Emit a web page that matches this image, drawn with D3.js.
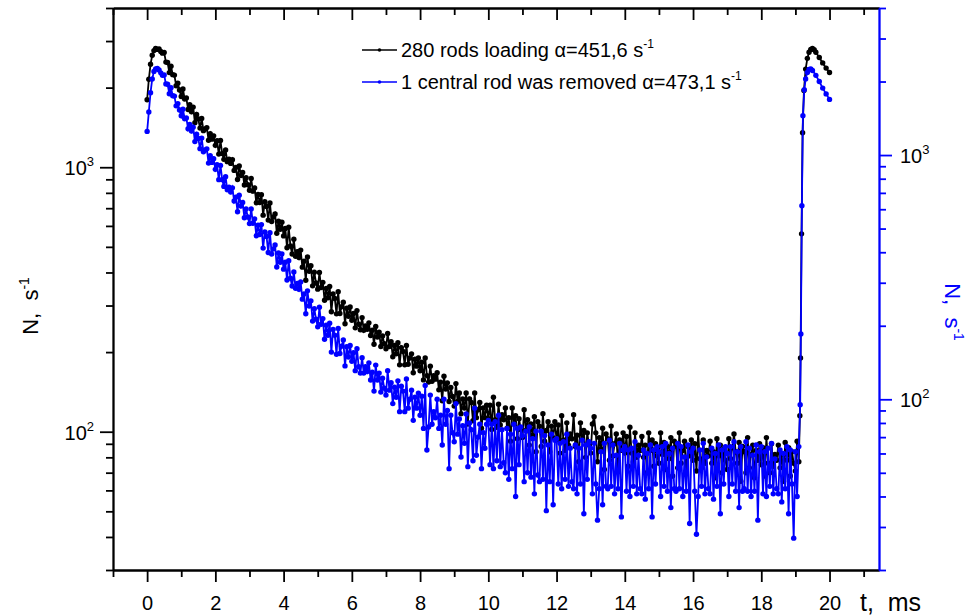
<!DOCTYPE html>
<meta charset="utf-8">
<style>
    body { margin: 0; background: #fff; }
    text { font-family: "Liberation Sans", Arial, sans-serif; }
</style>
<body>
<script src="https://d3js.org/d3.v7.min.js"></script>
<script>

    var width = 974, height = 616;

    // decay part: channels of 0.05 ms starting at t = 0
    var t0 = 0, dt = 0.05;

    // 280 rods loading (left axis), one row = 0.5 ms
    var rodsAll = [
        1800, 2150, 2450, 2650, 2760, 2810, 2790, 2800, 2740, 2700,
        2714, 2498, 2490, 2279, 2411, 2239, 2230, 2034, 2077, 1958,
        1852, 1977, 1810, 1827, 1654, 1723, 1622, 1688, 1474, 1584,
        1522, 1406, 1530, 1375, 1396, 1412, 1265, 1339, 1277, 1314,
        1210, 1260, 1121, 1262, 1127, 1071, 1163, 1050, 1073, 1034,
        1068, 973, 998, 899, 1011, 931, 955, 857, 912, 859,
        818, 906, 812, 835, 734, 789, 735, 787, 659, 740,
        711, 631, 732, 623, 648, 666, 563, 625, 583, 620,
        550, 587, 496, 593, 504, 470, 534, 461, 479, 456,
        486, 419, 441, 374, 458, 404, 424, 356, 401, 365,
        346, 400, 351, 367, 314, 348, 321, 354, 284, 332,
        319, 279, 338, 280, 297, 309, 256, 293, 273, 296,
        264, 280, 247, 287, 255, 243, 270, 242, 251, 244,
        258, 231, 242, 214, 250, 228, 238, 210, 230, 215,
        206, 235, 210, 219, 192, 212, 197, 217, 179, 208,
        201, 179, 212, 180, 190, 197, 167, 188, 177, 190,
        170, 183, 157, 190, 163, 154, 177, 155, 163, 158,
        167, 144, 154, 131, 162, 145, 153, 130, 147, 136,
        125, 152, 130, 140, 117, 133, 123, 140, 107, 133,
        129, 110, 140, 113, 121, 129, 103, 123, 113, 126,
        112, 126, 102, 135, 111, 104, 127, 106, 116, 111,
        123, 103, 113, 92, 123, 107, 115, 94, 112, 102,
        95, 121, 101, 111, 89, 107, 97, 114, 84, 109,
        105, 88, 117, 92, 101, 109, 84, 105, 95, 109,
        93, 106, 83, 115, 93, 85, 108, 89, 98, 94,
        116, 88, 97, 77, 108, 93, 101, 80, 99, 89,
        83, 107, 114, 99, 77, 95, 86, 103, 72, 98,
        94, 78, 105, 81, 90, 98, 74, 93, 85, 99,
        83, 96, 74, 104, 83, 77, 99, 80, 89, 85,
        96, 80, 89, 70, 99, 85, 93, 74, 90, 81,
        76, 99, 82, 91, 72, 88, 79, 95, 68, 92,
        88, 73, 99, 76, 85, 92, 70, 88, 81, 93,
        78, 90, 71, 99, 79, 73, 93, 76, 85, 81,
        92, 76, 84, 67, 94, 81, 89, 70, 86, 78,
        72, 94, 79, 87, 98, 84, 76, 91, 65, 88,
        84, 70, 95, 73, 82, 89, 67, 85, 78, 90,
        75, 87, 68, 95, 76, 70, 90, 74, 82, 78,
        89, 73, 82, 65, 91, 78, 87, 68, 84, 76,
        71, 92, 77
    ];

    // 1 central rod was removed (right axis)
    var rodRemoved = [
        1250, 1500, 1800, 2050, 2200, 2250, 2260, 2230, 2170, 2120,
        2126, 1956, 1949, 1783, 1886, 1750, 1743, 1590, 1624, 1530,
        1448, 1541, 1408, 1419, 1281, 1333, 1253, 1301, 1135, 1217,
        1170, 1062, 1173, 1031, 1049, 1060, 927, 993, 933, 966,
        874, 912, 793, 907, 793, 744, 815, 721, 738, 705,
        734, 648, 672, 586, 685, 618, 639, 554, 602, 558,
        524, 602, 526, 548, 467, 516, 473, 519, 416, 484,
        464, 399, 481, 393, 413, 428, 348, 397, 364, 394,
        341, 364, 308, 369, 313, 291, 332, 285, 298, 282,
        302, 257, 270, 224, 278, 241, 253, 209, 235, 213,
        198, 238, 203, 214, 176, 201, 183, 205, 156, 193,
        183, 153, 195, 154, 165, 175, 137, 164, 149, 166,
        143, 155, 131, 161, 136, 128, 148, 128, 136, 130,
        141, 120, 129, 108, 138, 120, 128, 107, 122, 111,
        104, 131, 109, 117, 96, 112, 102, 119, 89, 113,
        108, 89, 121, 92, 100, 109, 82, 102, 92, 106,
        86, 103, 76, 114, 62, 77, 104, 79, 89, 84,
        100, 76, 86, 65, 100, 79, 90, 52, 86, 73,
        67, 96, 72, 83, 58, 78, 66, 87, 53, 80,
        75, 56, 92, 59, 70, 79, 52, 73, 63, 79,
        82, 54, 79, 52, 81, 56, 86, 53, 75, 55,
        50, 76, 47, 72, 52, 79, 40, 76, 54, 77,
        71, 46, 74, 50, 77, 48, 69, 41, 74, 49,
        46, 74, 47, 71, 35, 65, 46, 72, 37, 68,
        69, 45, 66, 43, 67, 47, 72, 44, 63, 46,
        43, 65, 41, 63, 45, 68, 34, 65, 47, 67,
        63, 41, 66, 45, 32, 43, 61, 37, 66, 44,
        43, 68, 44, 65, 41, 59, 43, 66, 33, 62,
        64, 42, 62, 40, 63, 44, 67, 41, 59, 43,
        41, 62, 39, 60, 43, 65, 33, 62, 45, 64,
        61, 40, 64, 44, 66, 42, 60, 36, 63, 43,
        42, 66, 43, 64, 40, 58, 42, 65, 31, 61,
        63, 42, 28, 40, 62, 44, 66, 41, 58, 43,
        41, 63, 39, 60, 44, 65, 34, 62, 45, 64,
        60, 40, 64, 45, 67, 42, 61, 36, 64, 42,
        43, 67, 42, 63, 40, 59, 42, 65, 32, 61,
        64, 41, 61, 40, 63, 44, 66, 41, 57, 43,
        41, 62, 38, 60, 43, 64, 34, 62, 45, 27,
        61, 40, 64
    ];

    // next generator pulse at the end of the period
    var rodsAllTailT = [19.13, 19.15, 19.18, 19.21, 19.25, 19.3, 19.35, 19.4, 19.45, 19.5, 19.55, 19.6, 19.7, 19.8, 19.9, 20.0];
    var rodsAllTail  = [115, 190, 560, 1350, 1950, 2350, 2580, 2720, 2790, 2810, 2780, 2720, 2600, 2480, 2370, 2280];
    var rodRemovedTailT = [19.14, 19.16, 19.19, 19.22, 19.26, 19.3, 19.35, 19.4, 19.45, 19.5, 19.6, 19.7, 19.8, 19.9, 20.0];
    var rodRemovedTail  = [95, 185, 620, 1450, 1850, 2050, 2180, 2240, 2250, 2220, 2120, 2000, 1880, 1780, 1690];

    var xMajor = [0, 2, 4, 6, 8, 10, 12, 14, 16, 18, 20];
    var xMinor = [-1, 1, 3, 5, 7, 9, 11, 13, 15, 17, 19, 21];
    var leftMajor = [100, 1000];
    var leftMinor = [30, 40, 50, 60, 70, 80, 90, 200, 300, 400, 500, 600, 700, 800, 900, 2000, 3000, 4000];
    var rightMajor = [100, 1000];
    var rightMinor = [20, 30, 40, 50, 60, 70, 80, 90, 200, 300, 400, 500, 600, 700, 800, 900, 2000, 3000, 4000];

    var legendLabels = ["280 rods loading \u03b1=451,6 s", "1 central rod was removed \u03b1=473,1 s"];
    var colors = ["#000000", "#0000ff"];

    var x = d3.scaleLinear().domain([-1, 21.45]).range([113, 879]);
    var yLeft = d3.scaleLog().domain([30, 4000]).range([570, 8]);
    var yRight = d3.scaleLog().domain([20, 4000]).range([570, 8]);

    var svg = d3.select("body").append("svg")
        .attr("width", width)
        .attr("height", height);

    function series(vals, tailT, tailV) {
        var pts = vals.map(function(v, i) { return {t: t0 + i * dt, v: v}; });
        tailT.forEach(function(t, i) { pts.push({t: t, v: tailV[i]}); });
        return pts;
    }

    var black = series(rodsAll, rodsAllTailT, rodsAllTail);
    var blue = series(rodRemoved, rodRemovedTailT, rodRemovedTail);

    function drawSeries(pts, y, color) {
        var line = d3.line()
            .x(function(d) { return x(d.t); })
            .y(function(d) { return y(d.v); });
        svg.append("path")
            .datum(pts)
            .attr("fill", "none")
            .attr("stroke", color)
            .attr("stroke-width", 1.8)
            .attr("d", line);
        svg.append("g").selectAll("circle")
            .data(pts)
            .enter().append("circle")
            .attr("cx", function(d) { return x(d.t); })
            .attr("cy", function(d) { return y(d.v); })
            .attr("r", 2.7)
            .attr("fill", color);
    }

    drawSeries(black, yLeft, colors[0]);
    drawSeries(blue, yRight, colors[1]);

    // axes: major and minor ticks drawn separately
    function styleAxis(g, color) {
        g.selectAll("path, line").attr("stroke", color).attr("stroke-width", 1.8);
        g.selectAll("text").attr("fill", color);
    }

    var gBottom = svg.append("g").attr("transform", "translate(0,570)")
        .call(d3.axisBottom(x).tickValues(xMajor).tickSize(12).tickSizeOuter(0).tickPadding(14).tickFormat(d3.format("d")));
    gBottom.selectAll("text").attr("font-size", 20);
    styleAxis(gBottom, "#000");
    styleAxis(svg.append("g").attr("transform", "translate(0,570)")
        .call(d3.axisBottom(x).tickValues(xMinor).tickSize(7).tickSizeOuter(0).tickFormat("")), "#000");

    styleAxis(svg.append("g").attr("transform", "translate(0,8)")
        .call(d3.axisBottom(x).tickValues(xMajor).tickSize(12).tickSizeOuter(0).tickFormat("")), "#000");
    styleAxis(svg.append("g").attr("transform", "translate(0,8)")
        .call(d3.axisBottom(x).tickValues(xMinor).tickSize(7).tickSizeOuter(0).tickFormat("")), "#000");

    styleAxis(svg.append("g").attr("transform", "translate(113,0)")
        .call(d3.axisLeft(yLeft).tickValues(leftMajor).tickSize(13).tickSizeOuter(0).tickFormat("")), "#000");
    styleAxis(svg.append("g").attr("transform", "translate(113,0)")
        .call(d3.axisLeft(yLeft).tickValues(leftMinor).tickSize(7).tickSizeOuter(0).tickFormat("")), "#000");

    styleAxis(svg.append("g").attr("transform", "translate(879,0)")
        .call(d3.axisRight(yRight).tickValues(rightMajor).tickSize(13).tickSizeOuter(0).tickFormat("")), "#0000ff");
    styleAxis(svg.append("g").attr("transform", "translate(879,0)")
        .call(d3.axisRight(yRight).tickValues(rightMinor).tickSize(7).tickSizeOuter(0).tickFormat("")), "#0000ff");

    // power-of-ten labels
    function powerLabel(xPos, yPos, anchor, v) {
        var t = svg.append("text")
            .attr("x", xPos)
            .attr("y", yPos)
            .attr("text-anchor", anchor)
            .attr("font-size", 20)
            .attr("fill", "#000");
        t.append("tspan").text("10");
        t.append("tspan").attr("dy", -9).attr("font-size", 13).text(Math.round(Math.log10(v)));
    }
    leftMajor.forEach(function(v) { powerLabel(94, yLeft(v) + 8, "end", v); });
    rightMajor.forEach(function(v) { powerLabel(900, yRight(v) + 8, "start", v); });

    // axis titles
    function titleWithSup(g, base, sup, color) {
        var t = g.append("text")
            .attr("text-anchor", "middle")
            .attr("font-size", 22)
            .attr("fill", color)
            .style("white-space", "pre");
        t.append("tspan").text(base);
        t.append("tspan").attr("dy", -9).attr("font-size", 14).text(sup);
        return t;
    }
    titleWithSup(svg.append("g").attr("transform", "translate(38,306) rotate(-90)"), "N,  s", "-1", "#000");
    titleWithSup(svg.append("g").attr("transform", "translate(945,312) rotate(90)"), "N,  s", "-1", "#0000ff");

    svg.append("text")
        .attr("x", 860)
        .attr("y", 611)
        .attr("font-size", 25)
        .style("white-space", "pre")
        .text("t,  ms");

    // legend
    var legend = svg.append("g").selectAll("g")
        .data(legendLabels)
        .enter().append("g")
        .attr("transform", function(d, i) { return "translate(0," + (50 + i * 32) + ")"; });
    legend.append("line")
        .attr("x1", 362).attr("x2", 397)
        .attr("stroke", function(d, i) { return colors[i]; })
        .attr("stroke-width", 1.6);
    legend.append("circle")
        .attr("cx", 379.5).attr("r", 1.8)
        .attr("fill", function(d, i) { return colors[i]; });
    var lt = legend.append("text")
        .attr("x", 401)
        .attr("y", 7)
        .attr("font-size", 20)
        .attr("fill", "#000");
    lt.append("tspan").text(function(d) { return d; });
    lt.append("tspan").attr("dy", -9).attr("font-size", 12).text("-1");

</script>
